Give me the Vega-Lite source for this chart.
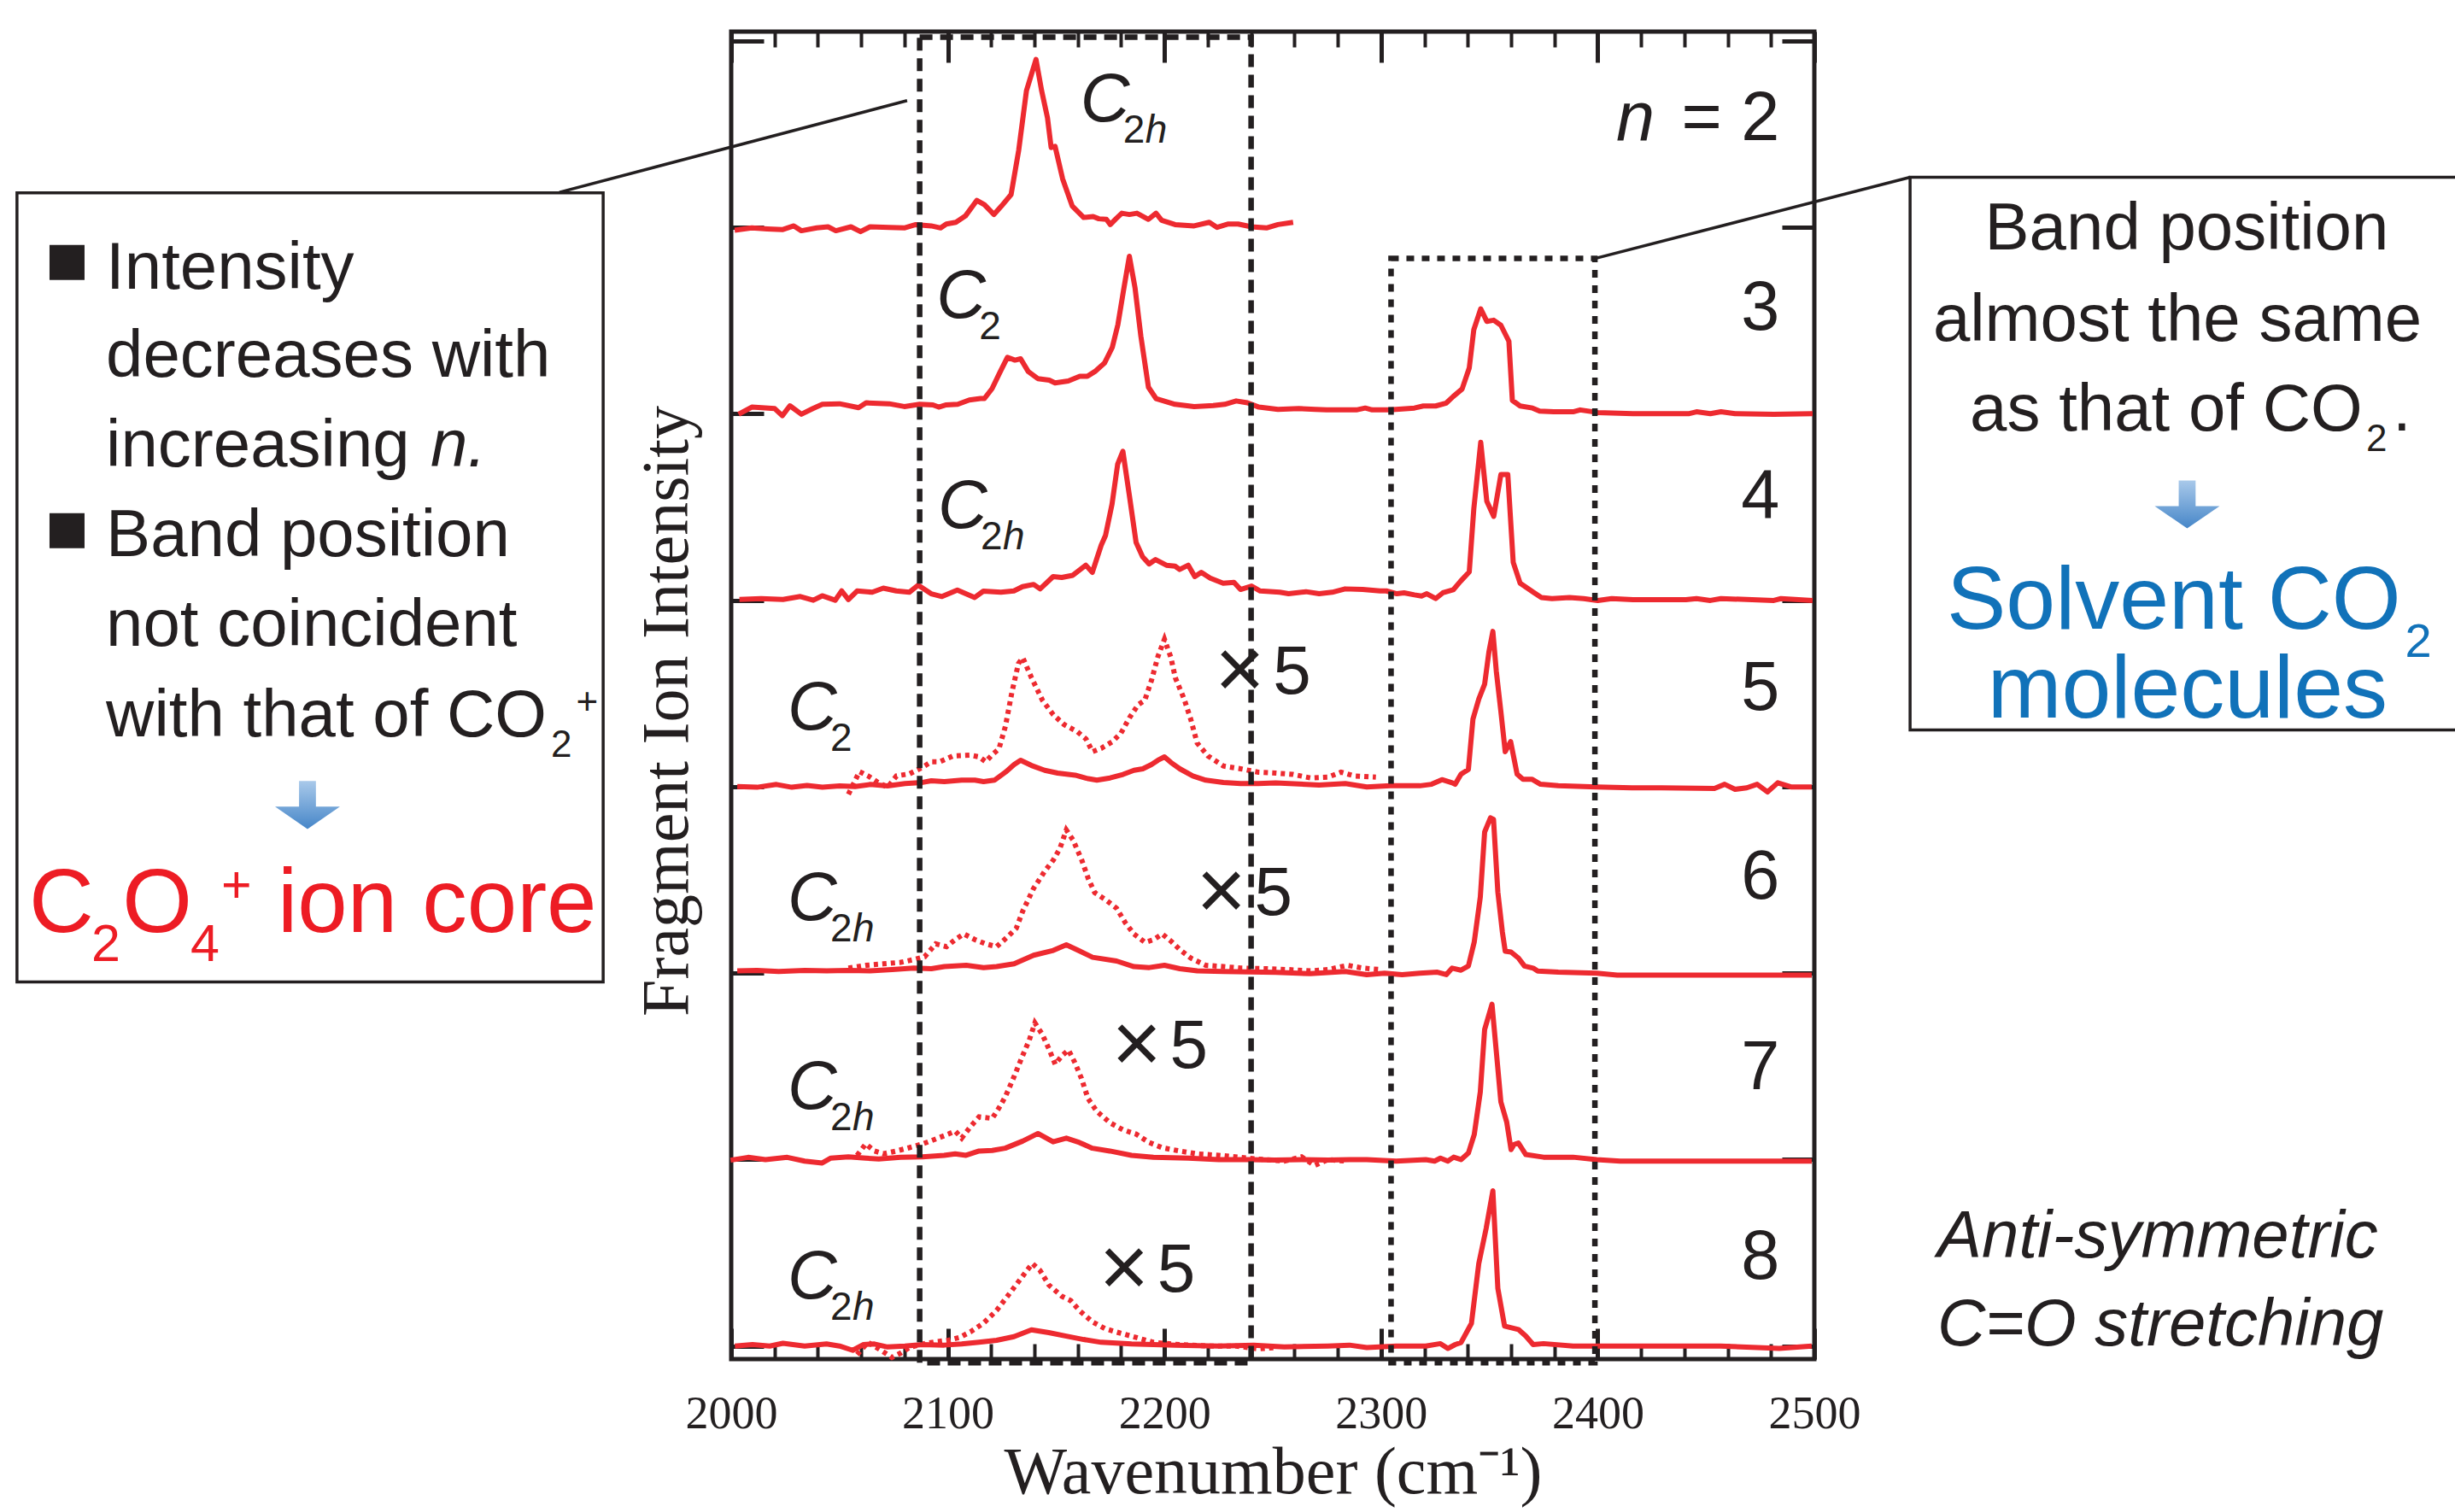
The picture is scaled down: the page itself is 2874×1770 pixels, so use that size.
{
"$schema": "https://vega.github.io/schema/vega-lite/v6.json",
"autosize": "none",
"width": 1268,
"height": 1554,
"padding": {"left": 856, "top": 37, "right": 750, "bottom": 179},
"background": "white",
"config": {"view": {"stroke": "#231f20", "strokeWidth": 5}},
"datasets": {
"sp": [
{"n":2,"k":"raw","x":2001.6,"y":5.985},{"n":2,"k":"raw","x":2009.5,"y":5.997},{"n":2,"k":"raw","x":2016.6,"y":5.992},{"n":2,"k":"raw","x":2023.6,"y":5.988},{"n":2,"k":"raw","x":2028.9,"y":6.008},{"n":2,"k":"raw","x":2032.4,"y":5.982},{"n":2,"k":"raw","x":2039.5,"y":5.997},{"n":2,"k":"raw","x":2044.7,"y":6.003},{"n":2,"k":"raw","x":2048.3,"y":5.982},{"n":2,"k":"raw","x":2055.3,"y":6.003},{"n":2,"k":"raw","x":2059.7,"y":5.977},{"n":2,"k":"raw","x":2064.1,"y":6.003},{"n":2,"k":"raw","x":2072.9,"y":6.0},{"n":2,"k":"raw","x":2079.9,"y":5.997},{"n":2,"k":"raw","x":2085.2,"y":6.015},{"n":2,"k":"raw","x":2092.3,"y":6.008},{"n":2,"k":"raw","x":2096.7,"y":5.997},{"n":2,"k":"raw","x":2099.3,"y":6.018},{"n":2,"k":"raw","x":2103.7,"y":6.027},{"n":2,"k":"raw","x":2108.1,"y":6.061},{"n":2,"k":"raw","x":2113.4,"y":6.145},{"n":2,"k":"raw","x":2116.9,"y":6.122},{"n":2,"k":"raw","x":2121.3,"y":6.069},{"n":2,"k":"raw","x":2124.8,"y":6.115},{"n":2,"k":"raw","x":2129.2,"y":6.176},{"n":2,"k":"raw","x":2132.7,"y":6.412},{"n":2,"k":"raw","x":2136.3,"y":6.733},{"n":2,"k":"raw","x":2140.7,"y":6.901},{"n":2,"k":"raw","x":2143.3,"y":6.733},{"n":2,"k":"raw","x":2146.0,"y":6.588},{"n":2,"k":"raw","x":2147.7,"y":6.428},{"n":2,"k":"raw","x":2149.5,"y":6.435},{"n":2,"k":"raw","x":2153.0,"y":6.26},{"n":2,"k":"raw","x":2157.4,"y":6.115},{"n":2,"k":"raw","x":2162.7,"y":6.053},{"n":2,"k":"raw","x":2167.1,"y":6.058},{"n":2,"k":"raw","x":2169.7,"y":6.046},{"n":2,"k":"raw","x":2173.2,"y":6.043},{"n":2,"k":"raw","x":2175.0,"y":6.015},{"n":2,"k":"raw","x":2177.6,"y":6.046},{"n":2,"k":"raw","x":2180.3,"y":6.076},{"n":2,"k":"raw","x":2183.8,"y":6.069},{"n":2,"k":"raw","x":2187.3,"y":6.076},{"n":2,"k":"raw","x":2192.6,"y":6.043},{"n":2,"k":"raw","x":2196.1,"y":6.076},{"n":2,"k":"raw","x":2198.7,"y":6.038},{"n":2,"k":"raw","x":2204.9,"y":6.015},{"n":2,"k":"raw","x":2213.7,"y":6.008},{"n":2,"k":"raw","x":2220.7,"y":6.027},{"n":2,"k":"raw","x":2224.3,"y":6.0},{"n":2,"k":"raw","x":2229.5,"y":6.018},{"n":2,"k":"raw","x":2234.0,"y":6.018},{"n":2,"k":"raw","x":2240.1,"y":6.003},{"n":2,"k":"raw","x":2247.1,"y":5.997},{"n":2,"k":"raw","x":2252.4,"y":6.015},{"n":2,"k":"raw","x":2259.4,"y":6.027},
{"n":3,"k":"raw","x":2003.4,"y":4.998},{"n":3,"k":"raw","x":2009.5,"y":5.036},{"n":3,"k":"raw","x":2020.1,"y":5.028},{"n":3,"k":"raw","x":2023.6,"y":4.99},{"n":3,"k":"raw","x":2027.1,"y":5.043},{"n":3,"k":"raw","x":2032.4,"y":4.998},{"n":3,"k":"raw","x":2037.7,"y":5.028},{"n":3,"k":"raw","x":2042.1,"y":5.051},{"n":3,"k":"raw","x":2050.0,"y":5.054},{"n":3,"k":"raw","x":2058.8,"y":5.033},{"n":3,"k":"raw","x":2062.3,"y":5.059},{"n":3,"k":"raw","x":2072.9,"y":5.054},{"n":3,"k":"raw","x":2079.9,"y":5.039},{"n":3,"k":"raw","x":2087.0,"y":5.051},{"n":3,"k":"raw","x":2093.1,"y":5.048},{"n":3,"k":"raw","x":2095.8,"y":5.036},{"n":3,"k":"raw","x":2099.3,"y":5.048},{"n":3,"k":"raw","x":2104.6,"y":5.051},{"n":3,"k":"raw","x":2109.9,"y":5.074},{"n":3,"k":"raw","x":2115.1,"y":5.082},{"n":3,"k":"raw","x":2116.9,"y":5.082},{"n":3,"k":"raw","x":2120.4,"y":5.135},{"n":3,"k":"raw","x":2123.9,"y":5.219},{"n":3,"k":"raw","x":2127.5,"y":5.303},{"n":3,"k":"raw","x":2131.0,"y":5.288},{"n":3,"k":"raw","x":2133.6,"y":5.295},{"n":3,"k":"raw","x":2137.1,"y":5.227},{"n":3,"k":"raw","x":2141.5,"y":5.189},{"n":3,"k":"raw","x":2146.8,"y":5.181},{"n":3,"k":"raw","x":2149.5,"y":5.166},{"n":3,"k":"raw","x":2155.6,"y":5.176},{"n":3,"k":"raw","x":2160.9,"y":5.201},{"n":3,"k":"raw","x":2164.4,"y":5.201},{"n":3,"k":"raw","x":2167.9,"y":5.227},{"n":3,"k":"raw","x":2172.3,"y":5.272},{"n":3,"k":"raw","x":2175.9,"y":5.356},{"n":3,"k":"raw","x":2178.5,"y":5.478},{"n":3,"k":"raw","x":2181.1,"y":5.662},{"n":3,"k":"raw","x":2183.8,"y":5.845},{"n":3,"k":"raw","x":2186.4,"y":5.677},{"n":3,"k":"raw","x":2189.1,"y":5.417},{"n":3,"k":"raw","x":2192.6,"y":5.143},{"n":3,"k":"raw","x":2196.1,"y":5.082},{"n":3,"k":"raw","x":2204.9,"y":5.051},{"n":3,"k":"raw","x":2213.7,"y":5.039},{"n":3,"k":"raw","x":2222.5,"y":5.044},{"n":3,"k":"raw","x":2227.8,"y":5.051},{"n":3,"k":"raw","x":2233.1,"y":5.069},{"n":3,"k":"raw","x":2238.3,"y":5.059},{"n":3,"k":"raw","x":2243.6,"y":5.036},{"n":3,"k":"raw","x":2252.4,"y":5.024},{"n":3,"k":"raw","x":2262.0,"y":5.028},{"n":3,"k":"raw","x":2269.7,"y":5.024},{"n":3,"k":"raw","x":2274.8,"y":5.021},{"n":3,"k":"raw","x":2288.6,"y":5.021},{"n":3,"k":"raw","x":2292.7,"y":5.031},{"n":3,"k":"raw","x":2295.9,"y":5.021},{"n":3,"k":"raw","x":2304.1,"y":5.021},{"n":3,"k":"raw","x":2315.4,"y":5.031},{"n":3,"k":"raw","x":2319.5,"y":5.042},{"n":3,"k":"raw","x":2325.2,"y":5.042},{"n":3,"k":"raw","x":2330.1,"y":5.058},{"n":3,"k":"raw","x":2333.3,"y":5.093},{"n":3,"k":"raw","x":2337.4,"y":5.133},{"n":3,"k":"raw","x":2340.7,"y":5.246},{"n":3,"k":"raw","x":2342.8,"y":5.451},{"n":3,"k":"raw","x":2346.0,"y":5.563},{"n":3,"k":"raw","x":2348.8,"y":5.496},{"n":3,"k":"raw","x":2352.0,"y":5.502},{"n":3,"k":"raw","x":2355.3,"y":5.475},{"n":3,"k":"raw","x":2359.0,"y":5.389},{"n":3,"k":"raw","x":2360.6,"y":5.072},{"n":3,"k":"raw","x":2364.2,"y":5.042},{"n":3,"k":"raw","x":2369.9,"y":5.031},{"n":3,"k":"raw","x":2373.2,"y":5.015},{"n":3,"k":"raw","x":2379.7,"y":5.011},{"n":3,"k":"raw","x":2388.6,"y":5.011},{"n":3,"k":"raw","x":2391.9,"y":5.021},{"n":3,"k":"raw","x":2400.0,"y":5.007},{"n":3,"k":"raw","x":2416.3,"y":5.001},{"n":3,"k":"raw","x":2442.3,"y":5.001},{"n":3,"k":"raw","x":2445.6,"y":5.011},{"n":3,"k":"raw","x":2452.0,"y":5.001},{"n":3,"k":"raw","x":2456.9,"y":5.011},{"n":3,"k":"raw","x":2463.4,"y":5.001},{"n":3,"k":"raw","x":2481.3,"y":4.997},{"n":3,"k":"raw","x":2499.2,"y":5.001},
{"n":4,"k":"raw","x":2003.8,"y":4.004},{"n":4,"k":"raw","x":2013.8,"y":4.009},{"n":4,"k":"raw","x":2023.9,"y":4.004},{"n":4,"k":"raw","x":2031.9,"y":4.02},{"n":4,"k":"raw","x":2037.9,"y":4.0},{"n":4,"k":"raw","x":2042.0,"y":4.024},{"n":4,"k":"raw","x":2048.0,"y":4.0},{"n":4,"k":"raw","x":2051.0,"y":4.05},{"n":4,"k":"raw","x":2054.1,"y":4.004},{"n":4,"k":"raw","x":2058.1,"y":4.05},{"n":4,"k":"raw","x":2065.1,"y":4.043},{"n":4,"k":"raw","x":2070.2,"y":4.065},{"n":4,"k":"raw","x":2076.2,"y":4.05},{"n":4,"k":"raw","x":2082.2,"y":4.043},{"n":4,"k":"raw","x":2086.3,"y":4.081},{"n":4,"k":"raw","x":2092.3,"y":4.035},{"n":4,"k":"raw","x":2097.3,"y":4.02},{"n":4,"k":"raw","x":2104.4,"y":4.055},{"n":4,"k":"raw","x":2112.4,"y":4.015},{"n":4,"k":"raw","x":2116.4,"y":4.049},{"n":4,"k":"raw","x":2124.5,"y":4.043},{"n":4,"k":"raw","x":2130.5,"y":4.05},{"n":4,"k":"raw","x":2134.5,"y":4.073},{"n":4,"k":"raw","x":2139.6,"y":4.085},{"n":4,"k":"raw","x":2142.6,"y":4.061},{"n":4,"k":"raw","x":2148.6,"y":4.127},{"n":4,"k":"raw","x":2152.6,"y":4.122},{"n":4,"k":"raw","x":2157.7,"y":4.134},{"n":4,"k":"raw","x":2163.7,"y":4.188},{"n":4,"k":"raw","x":2166.7,"y":4.15},{"n":4,"k":"raw","x":2170.8,"y":4.295},{"n":4,"k":"raw","x":2172.8,"y":4.348},{"n":4,"k":"raw","x":2175.8,"y":4.516},{"n":4,"k":"raw","x":2178.4,"y":4.73},{"n":4,"k":"raw","x":2180.8,"y":4.799},{"n":4,"k":"raw","x":2183.8,"y":4.562},{"n":4,"k":"raw","x":2186.9,"y":4.31},{"n":4,"k":"raw","x":2189.9,"y":4.233},{"n":4,"k":"raw","x":2192.9,"y":4.195},{"n":4,"k":"raw","x":2195.9,"y":4.218},{"n":4,"k":"raw","x":2200.9,"y":4.188},{"n":4,"k":"raw","x":2204.9,"y":4.183},{"n":4,"k":"raw","x":2207.0,"y":4.165},{"n":4,"k":"raw","x":2211.0,"y":4.188},{"n":4,"k":"raw","x":2214.0,"y":4.127},{"n":4,"k":"raw","x":2217.0,"y":4.15},{"n":4,"k":"raw","x":2221.1,"y":4.119},{"n":4,"k":"raw","x":2227.1,"y":4.091},{"n":4,"k":"raw","x":2232.1,"y":4.096},{"n":4,"k":"raw","x":2235.1,"y":4.058},{"n":4,"k":"raw","x":2240.2,"y":4.076},{"n":4,"k":"raw","x":2244.2,"y":4.05},{"n":4,"k":"raw","x":2253.2,"y":4.043},{"n":4,"k":"raw","x":2257.3,"y":4.035},{"n":4,"k":"raw","x":2265.3,"y":4.046},{"n":4,"k":"raw","x":2271.4,"y":4.035},{"n":4,"k":"raw","x":2277.4,"y":4.043},{"n":4,"k":"raw","x":2283.4,"y":4.061},{"n":4,"k":"raw","x":2291.5,"y":4.058},{"n":4,"k":"raw","x":2299.5,"y":4.05},{"n":4,"k":"raw","x":2302.4,"y":4.05},{"n":4,"k":"raw","x":2307.3,"y":4.035},{"n":4,"k":"raw","x":2310.6,"y":4.04},{"n":4,"k":"raw","x":2315.4,"y":4.029},{"n":4,"k":"raw","x":2318.7,"y":4.023},{"n":4,"k":"raw","x":2321.1,"y":4.035},{"n":4,"k":"raw","x":2325.2,"y":4.009},{"n":4,"k":"raw","x":2328.5,"y":4.04},{"n":4,"k":"raw","x":2333.3,"y":4.056},{"n":4,"k":"raw","x":2336.6,"y":4.101},{"n":4,"k":"raw","x":2340.7,"y":4.152},{"n":4,"k":"raw","x":2342.8,"y":4.49},{"n":4,"k":"raw","x":2346.0,"y":4.847},{"n":4,"k":"raw","x":2348.8,"y":4.531},{"n":4,"k":"raw","x":2352.0,"y":4.45},{"n":4,"k":"raw","x":2355.3,"y":4.674},{"n":4,"k":"raw","x":2358.5,"y":4.674},{"n":4,"k":"raw","x":2361.0,"y":4.203},{"n":4,"k":"raw","x":2364.2,"y":4.091},{"n":4,"k":"raw","x":2370.7,"y":4.04},{"n":4,"k":"raw","x":2374.0,"y":4.015},{"n":4,"k":"raw","x":2378.9,"y":4.009},{"n":4,"k":"raw","x":2387.0,"y":4.015},{"n":4,"k":"raw","x":2393.5,"y":4.009},{"n":4,"k":"raw","x":2400.0,"y":3.999},{"n":4,"k":"raw","x":2406.5,"y":4.009},{"n":4,"k":"raw","x":2416.3,"y":4.003},{"n":4,"k":"raw","x":2440.7,"y":4.003},{"n":4,"k":"raw","x":2445.6,"y":4.009},{"n":4,"k":"raw","x":2452.0,"y":3.999},{"n":4,"k":"raw","x":2456.9,"y":4.009},{"n":4,"k":"raw","x":2481.3,"y":3.999},{"n":4,"k":"raw","x":2484.6,"y":4.009},{"n":4,"k":"raw","x":2499.2,"y":3.999},
{"n":5,"k":"raw","x":2002.8,"y":3.001},{"n":5,"k":"raw","x":2011.9,"y":2.997},{"n":5,"k":"raw","x":2020.9,"y":3.012},{"n":5,"k":"raw","x":2028.0,"y":2.997},{"n":5,"k":"raw","x":2035.0,"y":3.007},{"n":5,"k":"raw","x":2042.1,"y":2.997},{"n":5,"k":"raw","x":2050.1,"y":3.004},{"n":5,"k":"raw","x":2057.2,"y":3.001},{"n":5,"k":"raw","x":2064.2,"y":3.012},{"n":5,"k":"raw","x":2072.2,"y":3.004},{"n":5,"k":"raw","x":2080.3,"y":3.017},{"n":5,"k":"raw","x":2088.3,"y":3.023},{"n":5,"k":"raw","x":2092.4,"y":3.032},{"n":5,"k":"raw","x":2098.4,"y":3.027},{"n":5,"k":"raw","x":2106.4,"y":3.035},{"n":5,"k":"raw","x":2112.5,"y":3.035},{"n":5,"k":"raw","x":2116.5,"y":3.027},{"n":5,"k":"raw","x":2121.5,"y":3.035},{"n":5,"k":"raw","x":2126.6,"y":3.078},{"n":5,"k":"raw","x":2130.6,"y":3.119},{"n":5,"k":"raw","x":2133.6,"y":3.142},{"n":5,"k":"raw","x":2138.6,"y":3.114},{"n":5,"k":"raw","x":2144.7,"y":3.088},{"n":5,"k":"raw","x":2150.7,"y":3.073},{"n":5,"k":"raw","x":2158.8,"y":3.062},{"n":5,"k":"raw","x":2164.8,"y":3.043},{"n":5,"k":"raw","x":2168.8,"y":3.035},{"n":5,"k":"raw","x":2174.9,"y":3.047},{"n":5,"k":"raw","x":2180.9,"y":3.066},{"n":5,"k":"raw","x":2185.9,"y":3.088},{"n":5,"k":"raw","x":2190.0,"y":3.096},{"n":5,"k":"raw","x":2194.0,"y":3.119},{"n":5,"k":"raw","x":2197.0,"y":3.142},{"n":5,"k":"raw","x":2200.0,"y":3.16},{"n":5,"k":"raw","x":2203.0,"y":3.13},{"n":5,"k":"raw","x":2207.1,"y":3.096},{"n":5,"k":"raw","x":2213.1,"y":3.058},{"n":5,"k":"raw","x":2219.1,"y":3.035},{"n":5,"k":"raw","x":2227.2,"y":3.023},{"n":5,"k":"raw","x":2235.2,"y":3.017},{"n":5,"k":"raw","x":2243.3,"y":3.017},{"n":5,"k":"raw","x":2251.3,"y":3.02},{"n":5,"k":"raw","x":2271.4,"y":3.009},{"n":5,"k":"raw","x":2283.5,"y":3.017},{"n":5,"k":"raw","x":2293.4,"y":2.999},{"n":5,"k":"raw","x":2304.3,"y":3.005},{"n":5,"k":"raw","x":2317.9,"y":3.005},{"n":5,"k":"raw","x":2323.3,"y":3.013},{"n":5,"k":"raw","x":2328.1,"y":3.038},{"n":5,"k":"raw","x":2332.8,"y":3.021},{"n":5,"k":"raw","x":2334.2,"y":3.013},{"n":5,"k":"raw","x":2336.9,"y":3.067},{"n":5,"k":"raw","x":2340.3,"y":3.093},{"n":5,"k":"raw","x":2342.4,"y":3.362},{"n":5,"k":"raw","x":2345.1,"y":3.47},{"n":5,"k":"raw","x":2347.8,"y":3.55},{"n":5,"k":"raw","x":2349.8,"y":3.725},{"n":5,"k":"raw","x":2351.6,"y":3.833},{"n":5,"k":"raw","x":2353.2,"y":3.618},{"n":5,"k":"raw","x":2355.3,"y":3.403},{"n":5,"k":"raw","x":2357.3,"y":3.188},{"n":5,"k":"raw","x":2359.8,"y":3.242},{"n":5,"k":"raw","x":2362.8,"y":3.067},{"n":5,"k":"raw","x":2365.5,"y":3.04},{"n":5,"k":"raw","x":2369.6,"y":3.04},{"n":5,"k":"raw","x":2373.6,"y":3.013},{"n":5,"k":"raw","x":2381.8,"y":3.005},{"n":5,"k":"raw","x":2399.5,"y":2.999},{"n":5,"k":"raw","x":2415.8,"y":2.994},{"n":5,"k":"raw","x":2429.4,"y":2.994},{"n":5,"k":"raw","x":2453.9,"y":2.991},{"n":5,"k":"raw","x":2458.6,"y":3.013},{"n":5,"k":"raw","x":2463.4,"y":2.986},{"n":5,"k":"raw","x":2468.8,"y":2.994},{"n":5,"k":"raw","x":2473.6,"y":3.013},{"n":5,"k":"raw","x":2478.4,"y":2.972},{"n":5,"k":"raw","x":2483.1,"y":3.021},{"n":5,"k":"raw","x":2489.2,"y":2.999},{"n":5,"k":"raw","x":2498.8,"y":2.999},
{"n":5,"k":"x5","x":2054.1,"y":2.959},{"n":5,"k":"x5","x":2059.2,"y":3.081},{"n":5,"k":"x5","x":2063.2,"y":3.058},{"n":5,"k":"x5","x":2067.2,"y":3.027},{"n":5,"k":"x5","x":2072.2,"y":2.997},{"n":5,"k":"x5","x":2076.3,"y":3.058},{"n":5,"k":"x5","x":2082.3,"y":3.069},{"n":5,"k":"x5","x":2088.3,"y":3.104},{"n":5,"k":"x5","x":2092.4,"y":3.134},{"n":5,"k":"x5","x":2096.4,"y":3.134},{"n":5,"k":"x5","x":2102.4,"y":3.165},{"n":5,"k":"x5","x":2110.5,"y":3.169},{"n":5,"k":"x5","x":2114.5,"y":3.16},{"n":5,"k":"x5","x":2117.5,"y":3.134},{"n":5,"k":"x5","x":2120.5,"y":3.172},{"n":5,"k":"x5","x":2123.6,"y":3.203},{"n":5,"k":"x5","x":2126.6,"y":3.325},{"n":5,"k":"x5","x":2129.6,"y":3.508},{"n":5,"k":"x5","x":2132.6,"y":3.661},{"n":5,"k":"x5","x":2134.6,"y":3.692},{"n":5,"k":"x5","x":2138.6,"y":3.585},{"n":5,"k":"x5","x":2143.7,"y":3.463},{"n":5,"k":"x5","x":2148.7,"y":3.386},{"n":5,"k":"x5","x":2153.7,"y":3.333},{"n":5,"k":"x5","x":2159.8,"y":3.295},{"n":5,"k":"x5","x":2163.8,"y":3.256},{"n":5,"k":"x5","x":2166.8,"y":3.188},{"n":5,"k":"x5","x":2170.8,"y":3.206},{"n":5,"k":"x5","x":2175.9,"y":3.241},{"n":5,"k":"x5","x":2179.9,"y":3.287},{"n":5,"k":"x5","x":2183.9,"y":3.371},{"n":5,"k":"x5","x":2187.9,"y":3.44},{"n":5,"k":"x5","x":2190.9,"y":3.463},{"n":5,"k":"x5","x":2194.0,"y":3.57},{"n":5,"k":"x5","x":2197.0,"y":3.699},{"n":5,"k":"x5","x":2200.0,"y":3.791},{"n":5,"k":"x5","x":2203.0,"y":3.692},{"n":5,"k":"x5","x":2205.0,"y":3.585},{"n":5,"k":"x5","x":2209.1,"y":3.47},{"n":5,"k":"x5","x":2212.1,"y":3.363},{"n":5,"k":"x5","x":2215.1,"y":3.234},{"n":5,"k":"x5","x":2220.1,"y":3.165},{"n":5,"k":"x5","x":2227.2,"y":3.111},{"n":5,"k":"x5","x":2235.2,"y":3.096},{"n":5,"k":"x5","x":2243.3,"y":3.078},{"n":5,"k":"x5","x":2251.3,"y":3.073},{"n":5,"k":"x5","x":2259.3,"y":3.066},{"n":5,"k":"x5","x":2267.4,"y":3.047},{"n":5,"k":"x5","x":2275.5,"y":3.051},{"n":5,"k":"x5","x":2281.5,"y":3.078},{"n":5,"k":"x5","x":2287.5,"y":3.058},{"n":5,"k":"x5","x":2297.6,"y":3.051},
{"n":6,"k":"raw","x":2002.8,"y":2.012},{"n":6,"k":"raw","x":2011.9,"y":2.015},{"n":6,"k":"raw","x":2021.9,"y":2.009},{"n":6,"k":"raw","x":2034.0,"y":2.015},{"n":6,"k":"raw","x":2044.1,"y":2.012},{"n":6,"k":"raw","x":2054.1,"y":2.015},{"n":6,"k":"raw","x":2064.2,"y":2.012},{"n":6,"k":"raw","x":2074.3,"y":2.019},{"n":6,"k":"raw","x":2084.3,"y":2.027},{"n":6,"k":"raw","x":2092.4,"y":2.024},{"n":6,"k":"raw","x":2098.4,"y":2.035},{"n":6,"k":"raw","x":2108.5,"y":2.042},{"n":6,"k":"raw","x":2116.5,"y":2.03},{"n":6,"k":"raw","x":2122.5,"y":2.035},{"n":6,"k":"raw","x":2130.6,"y":2.05},{"n":6,"k":"raw","x":2139.6,"y":2.096},{"n":6,"k":"raw","x":2148.7,"y":2.122},{"n":6,"k":"raw","x":2154.7,"y":2.152},{"n":6,"k":"raw","x":2160.8,"y":2.119},{"n":6,"k":"raw","x":2166.8,"y":2.085},{"n":6,"k":"raw","x":2177.9,"y":2.065},{"n":6,"k":"raw","x":2185.9,"y":2.035},{"n":6,"k":"raw","x":2193.0,"y":2.03},{"n":6,"k":"raw","x":2200.0,"y":2.042},{"n":6,"k":"raw","x":2207.1,"y":2.024},{"n":6,"k":"raw","x":2215.1,"y":2.012},{"n":6,"k":"raw","x":2227.2,"y":2.009},{"n":6,"k":"raw","x":2251.3,"y":2.004},{"n":6,"k":"raw","x":2267.4,"y":1.997},{"n":6,"k":"raw","x":2283.5,"y":2.009},{"n":6,"k":"raw","x":2293.4,"y":1.992},{"n":6,"k":"raw","x":2301.6,"y":2.0},{"n":6,"k":"raw","x":2309.7,"y":1.992},{"n":6,"k":"raw","x":2317.9,"y":2.0},{"n":6,"k":"raw","x":2326.0,"y":2.005},{"n":6,"k":"raw","x":2330.1,"y":1.992},{"n":6,"k":"raw","x":2332.8,"y":2.027},{"n":6,"k":"raw","x":2336.9,"y":2.016},{"n":6,"k":"raw","x":2340.3,"y":2.038},{"n":6,"k":"raw","x":2343.0,"y":2.167},{"n":6,"k":"raw","x":2345.8,"y":2.408},{"n":6,"k":"raw","x":2347.8,"y":2.757},{"n":6,"k":"raw","x":2350.5,"y":2.833},{"n":6,"k":"raw","x":2351.9,"y":2.825},{"n":6,"k":"raw","x":2353.9,"y":2.435},{"n":6,"k":"raw","x":2356.0,"y":2.22},{"n":6,"k":"raw","x":2357.3,"y":2.118},{"n":6,"k":"raw","x":2360.0,"y":2.113},{"n":6,"k":"raw","x":2363.4,"y":2.081},{"n":6,"k":"raw","x":2366.2,"y":2.038},{"n":6,"k":"raw","x":2370.2,"y":2.027},{"n":6,"k":"raw","x":2372.3,"y":2.011},{"n":6,"k":"raw","x":2381.8,"y":2.005},{"n":6,"k":"raw","x":2399.5,"y":2.0},{"n":6,"k":"raw","x":2409.0,"y":1.989},{"n":6,"k":"raw","x":2429.4,"y":1.989},{"n":6,"k":"raw","x":2463.4,"y":1.989},{"n":6,"k":"raw","x":2498.8,"y":1.989},
{"n":6,"k":"x5","x":2054.1,"y":2.027},{"n":6,"k":"x5","x":2062.2,"y":2.042},{"n":6,"k":"x5","x":2070.2,"y":2.05},{"n":6,"k":"x5","x":2078.3,"y":2.058},{"n":6,"k":"x5","x":2084.3,"y":2.073},{"n":6,"k":"x5","x":2089.3,"y":2.088},{"n":6,"k":"x5","x":2094.4,"y":2.157},{"n":6,"k":"x5","x":2099.4,"y":2.142},{"n":6,"k":"x5","x":2103.4,"y":2.18},{"n":6,"k":"x5","x":2107.4,"y":2.21},{"n":6,"k":"x5","x":2112.5,"y":2.18},{"n":6,"k":"x5","x":2117.5,"y":2.157},{"n":6,"k":"x5","x":2122.5,"y":2.142},{"n":6,"k":"x5","x":2127.6,"y":2.195},{"n":6,"k":"x5","x":2131.6,"y":2.241},{"n":6,"k":"x5","x":2134.6,"y":2.333},{"n":6,"k":"x5","x":2139.6,"y":2.455},{"n":6,"k":"x5","x":2144.7,"y":2.546},{"n":6,"k":"x5","x":2148.7,"y":2.607},{"n":6,"k":"x5","x":2151.7,"y":2.668},{"n":6,"k":"x5","x":2154.7,"y":2.768},{"n":6,"k":"x5","x":2157.8,"y":2.714},{"n":6,"k":"x5","x":2161.8,"y":2.607},{"n":6,"k":"x5","x":2164.8,"y":2.508},{"n":6,"k":"x5","x":2167.8,"y":2.432},{"n":6,"k":"x5","x":2172.8,"y":2.394},{"n":6,"k":"x5","x":2177.9,"y":2.348},{"n":6,"k":"x5","x":2181.9,"y":2.271},{"n":6,"k":"x5","x":2185.9,"y":2.21},{"n":6,"k":"x5","x":2191.0,"y":2.165},{"n":6,"k":"x5","x":2195.0,"y":2.18},{"n":6,"k":"x5","x":2199.0,"y":2.21},{"n":6,"k":"x5","x":2203.0,"y":2.172},{"n":6,"k":"x5","x":2207.1,"y":2.126},{"n":6,"k":"x5","x":2212.1,"y":2.081},{"n":6,"k":"x5","x":2219.1,"y":2.042},{"n":6,"k":"x5","x":2227.2,"y":2.035},{"n":6,"k":"x5","x":2235.2,"y":2.027},{"n":6,"k":"x5","x":2247.3,"y":2.024},{"n":6,"k":"x5","x":2257.3,"y":2.019},{"n":6,"k":"x5","x":2267.4,"y":2.012},{"n":6,"k":"x5","x":2275.5,"y":2.019},{"n":6,"k":"x5","x":2284.5,"y":2.042},{"n":6,"k":"x5","x":2291.6,"y":2.027},{"n":6,"k":"x5","x":2299.6,"y":2.019},
{"n":7,"k":"raw","x":1999.7,"y":0.997},{"n":7,"k":"raw","x":2007.8,"y":1.012},{"n":7,"k":"raw","x":2015.8,"y":1.0},{"n":7,"k":"raw","x":2025.9,"y":1.012},{"n":7,"k":"raw","x":2033.9,"y":0.992},{"n":7,"k":"raw","x":2042.0,"y":0.982},{"n":7,"k":"raw","x":2046.0,"y":1.008},{"n":7,"k":"raw","x":2054.1,"y":1.015},{"n":7,"k":"raw","x":2062.1,"y":1.008},{"n":7,"k":"raw","x":2068.1,"y":1.003},{"n":7,"k":"raw","x":2078.2,"y":1.012},{"n":7,"k":"raw","x":2088.3,"y":1.015},{"n":7,"k":"raw","x":2098.3,"y":1.023},{"n":7,"k":"raw","x":2103.4,"y":1.031},{"n":7,"k":"raw","x":2108.4,"y":1.023},{"n":7,"k":"raw","x":2114.4,"y":1.046},{"n":7,"k":"raw","x":2120.5,"y":1.049},{"n":7,"k":"raw","x":2126.5,"y":1.061},{"n":7,"k":"raw","x":2134.5,"y":1.099},{"n":7,"k":"raw","x":2141.6,"y":1.14},{"n":7,"k":"raw","x":2148.6,"y":1.095},{"n":7,"k":"raw","x":2154.7,"y":1.115},{"n":7,"k":"raw","x":2160.7,"y":1.092},{"n":7,"k":"raw","x":2166.7,"y":1.061},{"n":7,"k":"raw","x":2174.8,"y":1.046},{"n":7,"k":"raw","x":2184.8,"y":1.023},{"n":7,"k":"raw","x":2194.9,"y":1.012},{"n":7,"k":"raw","x":2211.0,"y":1.008},{"n":7,"k":"raw","x":2225.1,"y":1.0},{"n":7,"k":"raw","x":2239.2,"y":1.0},{"n":7,"k":"raw","x":2251.2,"y":0.997},{"n":7,"k":"raw","x":2263.3,"y":1.0},{"n":7,"k":"raw","x":2275.4,"y":0.997},{"n":7,"k":"raw","x":2285.4,"y":1.0},{"n":7,"k":"raw","x":2293.4,"y":1.0},{"n":7,"k":"raw","x":2307.0,"y":0.992},{"n":7,"k":"raw","x":2320.6,"y":1.0},{"n":7,"k":"raw","x":2324.7,"y":0.992},{"n":7,"k":"raw","x":2327.4,"y":1.008},{"n":7,"k":"raw","x":2330.8,"y":0.992},{"n":7,"k":"raw","x":2333.5,"y":1.013},{"n":7,"k":"raw","x":2336.9,"y":1.0},{"n":7,"k":"raw","x":2340.3,"y":1.035},{"n":7,"k":"raw","x":2343.0,"y":1.134},{"n":7,"k":"raw","x":2345.8,"y":1.363},{"n":7,"k":"raw","x":2347.8,"y":1.698},{"n":7,"k":"raw","x":2351.2,"y":1.833},{"n":7,"k":"raw","x":2353.2,"y":1.578},{"n":7,"k":"raw","x":2355.3,"y":1.309},{"n":7,"k":"raw","x":2358.0,"y":1.201},{"n":7,"k":"raw","x":2360.0,"y":1.054},{"n":7,"k":"raw","x":2361.4,"y":1.081},{"n":7,"k":"raw","x":2363.4,"y":1.089},{"n":7,"k":"raw","x":2366.8,"y":1.027},{"n":7,"k":"raw","x":2375.0,"y":1.013},{"n":7,"k":"raw","x":2388.6,"y":1.013},{"n":7,"k":"raw","x":2399.5,"y":1.0},{"n":7,"k":"raw","x":2410.4,"y":0.992},{"n":7,"k":"raw","x":2429.4,"y":0.992},{"n":7,"k":"raw","x":2498.8,"y":0.992},
{"n":7,"k":"x5","x":2058.1,"y":1.023},{"n":7,"k":"x5","x":2062.1,"y":1.084},{"n":7,"k":"x5","x":2066.1,"y":1.046},{"n":7,"k":"x5","x":2070.2,"y":1.031},{"n":7,"k":"x5","x":2076.2,"y":1.046},{"n":7,"k":"x5","x":2082.2,"y":1.064},{"n":7,"k":"x5","x":2088.3,"y":1.084},{"n":7,"k":"x5","x":2094.3,"y":1.11},{"n":7,"k":"x5","x":2100.3,"y":1.137},{"n":7,"k":"x5","x":2103.4,"y":1.153},{"n":7,"k":"x5","x":2106.4,"y":1.115},{"n":7,"k":"x5","x":2110.4,"y":1.176},{"n":7,"k":"x5","x":2114.4,"y":1.229},{"n":7,"k":"x5","x":2120.5,"y":1.221},{"n":7,"k":"x5","x":2123.5,"y":1.275},{"n":7,"k":"x5","x":2126.5,"y":1.336},{"n":7,"k":"x5","x":2130.5,"y":1.443},{"n":7,"k":"x5","x":2134.5,"y":1.557},{"n":7,"k":"x5","x":2137.6,"y":1.641},{"n":7,"k":"x5","x":2140.2,"y":1.733},{"n":7,"k":"x5","x":2143.6,"y":1.672},{"n":7,"k":"x5","x":2146.6,"y":1.595},{"n":7,"k":"x5","x":2149.6,"y":1.511},{"n":7,"k":"x5","x":2152.6,"y":1.557},{"n":7,"k":"x5","x":2155.7,"y":1.588},{"n":7,"k":"x5","x":2158.7,"y":1.519},{"n":7,"k":"x5","x":2161.7,"y":1.435},{"n":7,"k":"x5","x":2164.7,"y":1.328},{"n":7,"k":"x5","x":2168.7,"y":1.26},{"n":7,"k":"x5","x":2174.8,"y":1.198},{"n":7,"k":"x5","x":2180.8,"y":1.16},{"n":7,"k":"x5","x":2186.9,"y":1.137},{"n":7,"k":"x5","x":2192.9,"y":1.092},{"n":7,"k":"x5","x":2198.9,"y":1.064},{"n":7,"k":"x5","x":2207.0,"y":1.046},{"n":7,"k":"x5","x":2215.0,"y":1.031},{"n":7,"k":"x5","x":2225.1,"y":1.023},{"n":7,"k":"x5","x":2235.1,"y":1.012},{"n":7,"k":"x5","x":2243.2,"y":1.003},{"n":7,"k":"x5","x":2255.3,"y":0.992},{"n":7,"k":"x5","x":2263.3,"y":1.015},{"n":7,"k":"x5","x":2269.3,"y":0.969},{"n":7,"k":"x5","x":2275.4,"y":1.0},{"n":7,"k":"x5","x":2283.4,"y":0.992},
{"n":8,"k":"raw","x":2001.7,"y":0.0},{"n":8,"k":"raw","x":2009.8,"y":0.008},{"n":8,"k":"raw","x":2017.8,"y":0.0},{"n":8,"k":"raw","x":2023.9,"y":0.015},{"n":8,"k":"raw","x":2033.9,"y":0.0},{"n":8,"k":"raw","x":2044.0,"y":0.011},{"n":8,"k":"raw","x":2050.0,"y":0.0},{"n":8,"k":"raw","x":2056.1,"y":-0.023},{"n":8,"k":"raw","x":2061.1,"y":0.008},{"n":8,"k":"raw","x":2066.1,"y":0.011},{"n":8,"k":"raw","x":2072.2,"y":-0.005},{"n":8,"k":"raw","x":2080.2,"y":0.0},{"n":8,"k":"raw","x":2088.3,"y":0.008},{"n":8,"k":"raw","x":2098.3,"y":0.005},{"n":8,"k":"raw","x":2106.4,"y":0.011},{"n":8,"k":"raw","x":2114.4,"y":0.02},{"n":8,"k":"raw","x":2122.5,"y":0.031},{"n":8,"k":"raw","x":2130.5,"y":0.05},{"n":8,"k":"raw","x":2138.6,"y":0.087},{"n":8,"k":"raw","x":2146.6,"y":0.072},{"n":8,"k":"raw","x":2154.7,"y":0.053},{"n":8,"k":"raw","x":2162.7,"y":0.035},{"n":8,"k":"raw","x":2170.8,"y":0.02},{"n":8,"k":"raw","x":2184.8,"y":0.011},{"n":8,"k":"raw","x":2205.0,"y":0.005},{"n":8,"k":"raw","x":2225.1,"y":0.0},{"n":8,"k":"raw","x":2241.2,"y":0.005},{"n":8,"k":"raw","x":2255.3,"y":-0.005},{"n":8,"k":"raw","x":2275.4,"y":0.0},{"n":8,"k":"raw","x":2285.4,"y":0.005},{"n":8,"k":"raw","x":2293.4,"y":-0.008},{"n":8,"k":"raw","x":2307.0,"y":0.0},{"n":8,"k":"raw","x":2320.6,"y":0.0},{"n":8,"k":"raw","x":2327.4,"y":0.013},{"n":8,"k":"raw","x":2330.8,"y":-0.013},{"n":8,"k":"raw","x":2334.2,"y":0.008},{"n":8,"k":"raw","x":2336.9,"y":0.019},{"n":8,"k":"raw","x":2341.7,"y":0.121},{"n":8,"k":"raw","x":2345.1,"y":0.443},{"n":8,"k":"raw","x":2348.5,"y":0.631},{"n":8,"k":"raw","x":2351.6,"y":0.833},{"n":8,"k":"raw","x":2353.9,"y":0.309},{"n":8,"k":"raw","x":2357.0,"y":0.107},{"n":8,"k":"raw","x":2363.4,"y":0.089},{"n":8,"k":"raw","x":2366.8,"y":0.054},{"n":8,"k":"raw","x":2370.2,"y":0.008},{"n":8,"k":"raw","x":2375.0,"y":0.013},{"n":8,"k":"raw","x":2388.6,"y":0.0},{"n":8,"k":"raw","x":2399.5,"y":0.0},{"n":8,"k":"raw","x":2429.4,"y":0.0},{"n":8,"k":"raw","x":2456.6,"y":0.0},{"n":8,"k":"raw","x":2483.8,"y":-0.013},{"n":8,"k":"raw","x":2498.8,"y":0.0},
{"n":8,"k":"x5","x":2058.1,"y":-0.046},{"n":8,"k":"x5","x":2063.1,"y":0.02},{"n":8,"k":"x5","x":2068.1,"y":-0.015},{"n":8,"k":"x5","x":2074.2,"y":-0.061},{"n":8,"k":"x5","x":2078.2,"y":-0.038},{"n":8,"k":"x5","x":2082.2,"y":-0.008},{"n":8,"k":"x5","x":2088.3,"y":0.011},{"n":8,"k":"x5","x":2094.3,"y":0.023},{"n":8,"k":"x5","x":2100.3,"y":0.031},{"n":8,"k":"x5","x":2105.4,"y":0.046},{"n":8,"k":"x5","x":2110.4,"y":0.076},{"n":8,"k":"x5","x":2116.4,"y":0.122},{"n":8,"k":"x5","x":2122.5,"y":0.191},{"n":8,"k":"x5","x":2128.5,"y":0.282},{"n":8,"k":"x5","x":2134.5,"y":0.374},{"n":8,"k":"x5","x":2139.0,"y":0.443},{"n":8,"k":"x5","x":2142.6,"y":0.405},{"n":8,"k":"x5","x":2146.6,"y":0.328},{"n":8,"k":"x5","x":2152.6,"y":0.267},{"n":8,"k":"x5","x":2156.7,"y":0.244},{"n":8,"k":"x5","x":2160.7,"y":0.191},{"n":8,"k":"x5","x":2166.7,"y":0.13},{"n":8,"k":"x5","x":2172.8,"y":0.092},{"n":8,"k":"x5","x":2178.8,"y":0.072},{"n":8,"k":"x5","x":2186.9,"y":0.046},{"n":8,"k":"x5","x":2194.9,"y":0.02},{"n":8,"k":"x5","x":2203.0,"y":0.011},{"n":8,"k":"x5","x":2211.0,"y":0.005},{"n":8,"k":"x5","x":2221.1,"y":0.0},{"n":8,"k":"x5","x":2233.1,"y":0.0},{"n":8,"k":"x5","x":2243.2,"y":-0.015},{"n":8,"k":"x5","x":2251.2,"y":-0.008}
],
"sym": [
{"n":2,"x":2161.2,"y":6.567,"s":"2h"},{"n":3,"x":2094.7,"y":5.513,"s":"2"},{"n":4,"x":2095.4,"y":4.388,"s":"2h"},{"n":5,"x":2026.0,"y":3.305,"s":"2"},{"n":6,"x":2026.0,"y":2.285,"s":"2h"},{"n":7,"x":2026.0,"y":1.273,"s":"2h"},{"n":8,"x":2026.0,"y":0.257,"s":"2h"}
],
"times": [
{"n":5,"x":2223.3,"y":3.498},{"n":6,"x":2214.7,"y":2.314},{"n":7,"x":2175.7,"y":1.492},{"n":8,"x":2169.9,"y":0.291}
],
"nlab": [
{"t":"= 2","x":2484,"y":6.47},{"t":"3","x":2484,"y":5.45},{"t":"4","x":2484,"y":4.44},{"t":"5","x":2484,"y":3.41},{"t":"6","x":2484,"y":2.4},{"t":"7","x":2484,"y":1.38},{"t":"8","x":2484,"y":0.36}
],
"regions": [
{"r":"core","x":2087,"x2":2240,"y":-0.09,"y2":7.02},
{"r":"solvent","x":2304.6,"x2":2398.7,"y":-0.09,"y2":5.833}
],
"boxes": [
{"x":1670.3,"x2":1940.9,"y":1.953,"y2":6.185},
{"x":2544.2,"x2":2800,"y":3.305,"y2":6.269}
],
"links": [
{"x":1920.7,"y":6.188,"x2":2081.2,"y2":6.68},
{"x":2398.7,"y":5.833,"x2":2544.2,"y2":6.269}
],
"bullets": [{"x":1693.4,"y":5.812},{"x":1693.4,"y":4.373}],
"arrows": [{"x":1804.4,"y":2.902},{"x":2672.1,"y":4.514}],
"notes": [
{"t":"Intensity","x":1711.4,"y":5.673,"r":"body"},
{"t":"decreases with","x":1711.4,"y":5.198,"r":"body"},
{"t":"increasing","x":1711.4,"y":4.716,"r":"body"},
{"t":"n.","x":1861.2,"y":4.716,"r":"bodyi"},
{"t":"Band position","x":1711.4,"y":4.237,"r":"body"},
{"t":"not coincident","x":1711.4,"y":3.755,"r":"body"},
{"t":"with that of CO","x":1711.4,"y":3.272,"r":"body"},
{"t":"2","x":1916.8,"y":3.158,"r":"sub"},
{"t":"+","x":1928.4,"y":3.389,"r":"sub"},
{"t":"C","x":1675.9,"y":2.22,"r":"red"},
{"t":"2","x":1704.7,"y":2.065,"r":"redsub"},
{"t":"O","x":1718.9,"y":2.22,"r":"red"},
{"t":"4","x":1750.4,"y":2.065,"r":"redsub"},
{"t":"+","x":1764.6,"y":2.382,"r":"redsub"},
{"t":"ion core","x":1790.6,"y":2.22,"r":"red"},
{"t":"Band position","x":2671.9,"y":5.883,"r":"rc"},
{"t":"almost the same","x":2667.6,"y":5.392,"r":"rc"},
{"t":"as that of CO","x":2571.8,"y":4.911,"r":"body"},
{"t":"2","x":2754.7,"y":4.8,"r":"sub"},
{"t":".","x":2767.0,"y":4.911,"r":"body"},
{"t":"Solvent CO","x":2561.1,"y":3.848,"r":"blue"},
{"t":"2","x":2772.7,"y":3.696,"r":"bluesub"},
{"t":"molecules","x":2672.3,"y":3.372,"r":"bluec"},
{"t":"Anti-symmetric","x":2556.8,"y":0.476,"r":"it"},
{"t":"C=O stretching","x":2556.8,"y":0.005,"r":"it"}
]
},
"resolve": {"axis": {"x": "independent", "y": "independent"}},
"layer": [
{
"data": {"name": "sp"},
"transform": [{"filter": "datum.k == 'raw'"}],
"mark": {"type": "line", "color": "#ed2a30", "strokeWidth": 6, "strokeJoin": "round"},
"encoding": {
"x": {"field": "x", "type": "quantitative", "scale": {"domain": [2000, 2500], "nice": false, "zero": false},
"axis": {"orient": "bottom", "values": [2000, 2100, 2200, 2300, 2400, 2500], "format": "d", "tickSize": -36, "tickWidth": 5, "tickColor": "#231f20", "domain": false, "grid": false, "labelFont": "Liberation Serif", "labelFontSize": 54, "labelColor": "#231f20", "labelPadding": 73, "labelFlush": false, "labelOverlap": false, "title": "Wavenumber (cm⁻¹)", "titleFont": "Liberation Serif", "titleFontSize": 78, "titleFontWeight": "normal", "titleColor": "#231f20", "titlePadding": 3}},
"y": {"field": "y", "type": "quantitative", "scale": {"domain": [-0.07, 7.05], "nice": false, "zero": false},
"axis": {"orient": "left", "values": [0, 1, 2, 3, 4, 5, 6, 7], "tickSize": -38, "tickWidth": 5, "tickColor": "#231f20", "domain": false, "grid": false, "labels": false, "title": "Fragment Ion Intensity", "titleFont": "Liberation Serif", "titleFontSize": 78, "titleFontWeight": "normal", "titleColor": "#231f20", "titlePadding": 33, "titleY": 795}},
"detail": {"field": "n", "type": "nominal"}
}
},
{
"data": {"name": "sp"},
"transform": [{"filter": "datum.k == 'x5'"}],
"mark": {"type": "line", "color": "#ed2a30", "strokeWidth": 6, "strokeDash": [5, 5]},
"encoding": {
"x": {"field": "x", "type": "quantitative", "axis": {"orient": "bottom", "values": [2000,2020,2040,2060,2080,2100,2120,2140,2160,2180,2200,2220,2240,2260,2280,2300,2320,2340,2360,2380,2400,2420,2440,2460,2480,2500], "tickSize": -18, "tickWidth": 4, "tickColor": "#231f20", "domain": false, "grid": false, "labels": false, "title": null}},
"y": {"field": "y", "type": "quantitative", "axis": {"orient": "right", "values": [0, 1, 2, 3, 4, 5, 6, 7], "tickSize": -38, "tickWidth": 5, "tickColor": "#231f20", "domain": false, "grid": false, "labels": false, "title": null}},
"detail": {"field": "n", "type": "nominal"}
}
},
{
"data": {"name": "regions"},
"transform": [{"filter": "datum.r == 'core'"}],
"mark": {"type": "rect", "filled": false, "stroke": "#231f20", "strokeWidth": 6.5, "strokeDash": [15, 9], "clip": false},
"encoding": {
"x": {"field": "x", "type": "quantitative", "axis": {"orient": "top", "values": [2000, 2100, 2200, 2300, 2400, 2500], "tickSize": -36, "tickWidth": 5, "tickColor": "#231f20", "domain": false, "grid": false, "labels": false, "title": null}},
"x2": {"field": "x2"},
"y": {"field": "y", "type": "quantitative", "axis": null},
"y2": {"field": "y2"}
}
},
{
"data": {"name": "regions"},
"transform": [{"filter": "datum.r == 'solvent'"}],
"mark": {"type": "rect", "filled": false, "stroke": "#231f20", "strokeWidth": 6.5, "strokeDash": [9, 9], "clip": false},
"encoding": {
"x": {"field": "x", "type": "quantitative", "axis": {"orient": "top", "values": [2000,2020,2040,2060,2080,2100,2120,2140,2160,2180,2200,2220,2240,2260,2280,2300,2320,2340,2360,2380,2400,2420,2440,2460,2480,2500], "tickSize": -18, "tickWidth": 4, "tickColor": "#231f20", "domain": false, "grid": false, "labels": false, "title": null}},
"x2": {"field": "x2"},
"y": {"field": "y", "type": "quantitative", "axis": null},
"y2": {"field": "y2"}
}
},
{
"data": {"name": "boxes"},
"mark": {"type": "rect", "filled": false, "stroke": "#231f20", "strokeWidth": 3.5, "clip": false},
"encoding": {
"x": {"field": "x", "type": "quantitative", "axis": null},
"x2": {"field": "x2"},
"y": {"field": "y", "type": "quantitative", "axis": null},
"y2": {"field": "y2"}
}
},
{
"data": {"name": "links"},
"mark": {"type": "rule", "color": "#231f20", "strokeWidth": 3.5, "clip": false},
"encoding": {
"x": {"field": "x", "type": "quantitative", "axis": null},
"x2": {"field": "x2"},
"y": {"field": "y", "type": "quantitative", "axis": null},
"y2": {"field": "y2"}
}
},
{
"data": {"name": "bullets"},
"mark": {"type": "point", "shape": "square", "filled": true, "size": 1681, "color": "#231f20", "opacity": 1, "clip": false},
"encoding": {
"x": {"field": "x", "type": "quantitative", "axis": null},
"y": {"field": "y", "type": "quantitative", "axis": null}
}
},
{
"data": {"name": "arrows"},
"mark": {"type": "point", "shape": "M-0.26,-0.74L0.26,-0.74L0.26,0.05L1,0.05L0,0.74L-1,0.05L-0.26,0.05Z", "filled": true, "size": 5776, "opacity": 1, "strokeWidth": 0, "clip": false,
"fill": {"gradient": "linear", "x1": 0, "y1": 0, "x2": 0, "y2": 1, "stops": [{"offset": 0, "color": "#a9c9ea"}, {"offset": 1, "color": "#4686c8"}]}},
"encoding": {
"x": {"field": "x", "type": "quantitative", "axis": null},
"y": {"field": "y", "type": "quantitative", "axis": null}
}
},
{
"data": {"name": "sym"},
"mark": {"type": "text", "text": "C", "font": "Liberation Sans", "fontStyle": "italic", "fontSize": 80, "align": "left", "baseline": "alphabetic", "color": "#231f20", "clip": false},
"encoding": {
"x": {"field": "x", "type": "quantitative", "axis": null},
"y": {"field": "y", "type": "quantitative", "axis": null}
}
},
{
"data": {"name": "sym"},
"mark": {"type": "text", "text": "2", "font": "Liberation Sans", "fontSize": 46, "align": "left", "baseline": "alphabetic", "dx": 50, "dy": 25, "color": "#231f20", "clip": false},
"encoding": {
"x": {"field": "x", "type": "quantitative", "axis": null},
"y": {"field": "y", "type": "quantitative", "axis": null}
}
},
{
"data": {"name": "sym"},
"transform": [{"filter": "datum.s == '2h'"}],
"mark": {"type": "text", "text": "h", "font": "Liberation Sans", "fontStyle": "italic", "fontSize": 46, "align": "left", "baseline": "alphabetic", "dx": 76, "dy": 25, "color": "#231f20", "clip": false},
"encoding": {
"x": {"field": "x", "type": "quantitative", "axis": null},
"y": {"field": "y", "type": "quantitative", "axis": null}
}
},
{
"data": {"name": "times"},
"mark": {"type": "text", "text": "×", "font": "Liberation Sans", "fontSize": 100, "align": "left", "baseline": "alphabetic", "dy": 5, "color": "#231f20", "clip": false},
"encoding": {
"x": {"field": "x", "type": "quantitative", "axis": null},
"y": {"field": "y", "type": "quantitative", "axis": null}
}
},
{
"data": {"name": "times"},
"mark": {"type": "text", "text": "5", "font": "Liberation Sans", "fontSize": 80, "align": "left", "baseline": "alphabetic", "dx": 68, "color": "#231f20", "clip": false},
"encoding": {
"x": {"field": "x", "type": "quantitative", "axis": null},
"y": {"field": "y", "type": "quantitative", "axis": null}
}
},
{
"data": {"name": "nlab"},
"mark": {"type": "text", "font": "Liberation Sans", "fontSize": 81, "align": "right", "baseline": "alphabetic", "color": "#231f20", "clip": false},
"encoding": {
"x": {"field": "x", "type": "quantitative", "axis": null},
"y": {"field": "y", "type": "quantitative", "axis": null},
"text": {"field": "t"}
}
},
{
"data": {"values": [{"t": "n", "x": 2408.5, "y": 6.47}]},
"mark": {"type": "text", "font": "Liberation Sans", "fontStyle": "italic", "fontSize": 81, "align": "left", "baseline": "alphabetic", "color": "#231f20", "clip": false},
"encoding": {
"x": {"field": "x", "type": "quantitative", "axis": null},
"y": {"field": "y", "type": "quantitative", "axis": null},
"text": {"field": "t"}
}
},
{
"data": {"name": "notes"},
"transform": [{"filter": "datum.r == 'body'"}],
"mark": {"type": "text", "font": "Liberation Sans", "fontSize": 78, "align": "left", "baseline": "alphabetic", "color": "#231f20", "clip": false},
"encoding": {"x": {"field": "x", "type": "quantitative", "axis": null}, "y": {"field": "y", "type": "quantitative", "axis": null}, "text": {"field": "t"}}
},
{
"data": {"name": "notes"},
"transform": [{"filter": "datum.r == 'bodyi'"}],
"mark": {"type": "text", "font": "Liberation Sans", "fontStyle": "italic", "fontSize": 78, "align": "left", "baseline": "alphabetic", "color": "#231f20", "clip": false},
"encoding": {"x": {"field": "x", "type": "quantitative", "axis": null}, "y": {"field": "y", "type": "quantitative", "axis": null}, "text": {"field": "t"}}
},
{
"data": {"name": "notes"},
"transform": [{"filter": "datum.r == 'sub'"}],
"mark": {"type": "text", "font": "Liberation Sans", "fontSize": 44, "align": "left", "baseline": "alphabetic", "color": "#231f20", "clip": false},
"encoding": {"x": {"field": "x", "type": "quantitative", "axis": null}, "y": {"field": "y", "type": "quantitative", "axis": null}, "text": {"field": "t"}}
},
{
"data": {"name": "notes"},
"transform": [{"filter": "datum.r == 'red'"}],
"mark": {"type": "text", "font": "Liberation Sans", "fontSize": 105, "align": "left", "baseline": "alphabetic", "color": "#ed1c24", "clip": false},
"encoding": {"x": {"field": "x", "type": "quantitative", "axis": null}, "y": {"field": "y", "type": "quantitative", "axis": null}, "text": {"field": "t"}}
},
{
"data": {"name": "notes"},
"transform": [{"filter": "datum.r == 'redsub'"}],
"mark": {"type": "text", "font": "Liberation Sans", "fontSize": 61, "align": "left", "baseline": "alphabetic", "color": "#ed1c24", "clip": false},
"encoding": {"x": {"field": "x", "type": "quantitative", "axis": null}, "y": {"field": "y", "type": "quantitative", "axis": null}, "text": {"field": "t"}}
},
{
"data": {"name": "notes"},
"transform": [{"filter": "datum.r == 'rc'"}],
"mark": {"type": "text", "font": "Liberation Sans", "fontSize": 78, "align": "center", "baseline": "alphabetic", "color": "#231f20", "clip": false},
"encoding": {"x": {"field": "x", "type": "quantitative", "axis": null}, "y": {"field": "y", "type": "quantitative", "axis": null}, "text": {"field": "t"}}
},
{
"data": {"name": "notes"},
"transform": [{"filter": "datum.r == 'blue'"}],
"mark": {"type": "text", "font": "Liberation Sans", "fontSize": 104, "align": "left", "baseline": "alphabetic", "color": "#1172b9", "clip": false},
"encoding": {"x": {"field": "x", "type": "quantitative", "axis": null}, "y": {"field": "y", "type": "quantitative", "axis": null}, "text": {"field": "t"}}
},
{
"data": {"name": "notes"},
"transform": [{"filter": "datum.r == 'bluesub'"}],
"mark": {"type": "text", "font": "Liberation Sans", "fontSize": 56, "align": "left", "baseline": "alphabetic", "color": "#1172b9", "clip": false},
"encoding": {"x": {"field": "x", "type": "quantitative", "axis": null}, "y": {"field": "y", "type": "quantitative", "axis": null}, "text": {"field": "t"}}
},
{
"data": {"name": "notes"},
"transform": [{"filter": "datum.r == 'bluec'"}],
"mark": {"type": "text", "font": "Liberation Sans", "fontSize": 104, "align": "center", "baseline": "alphabetic", "color": "#1172b9", "clip": false},
"encoding": {"x": {"field": "x", "type": "quantitative", "axis": null}, "y": {"field": "y", "type": "quantitative", "axis": null}, "text": {"field": "t"}}
},
{
"data": {"name": "notes"},
"transform": [{"filter": "datum.r == 'it'"}],
"mark": {"type": "text", "font": "Liberation Sans", "fontStyle": "italic", "fontSize": 78, "align": "left", "baseline": "alphabetic", "color": "#231f20", "clip": false},
"encoding": {"x": {"field": "x", "type": "quantitative", "axis": null}, "y": {"field": "y", "type": "quantitative", "axis": null}, "text": {"field": "t"}}
}
]
}
